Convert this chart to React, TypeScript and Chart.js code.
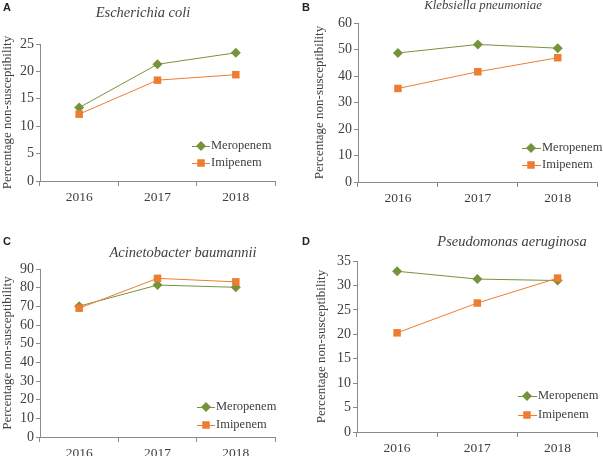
import React, { useEffect, useRef } from "react";
import { Chart, registerables } from "chart.js";

Chart.register(...registerables);

const years = ["2016", "2017", "2018"];
const seriesNames = ["Meropenem", "Imipenem"];

const ecoliMeropenem = [13.4, 21.3, 23.4];
const ecoliImipenem = [12.2, 18.4, 19.4];
const kpneuMeropenem = [48.7, 51.9, 50.5];
const kpneuImipenem = [35.3, 41.6, 46.9];
const abauMeropenem = [70.1, 81.4, 80.2];
const abauImipenem = [69.0, 85.0, 83.1];
const paerMeropenem = [32.9, 31.3, 31.0];
const paerImipenem = [20.3, 26.4, 31.5];

const panelLetters = ["A", "B", "C", "D"];
const organisms = [
  "Escherichia coli",
  "Klebsiella pneumoniae",
  "Acinetobacter baumannii",
  "Pseudomonas aeruginosa",
];
const yMax = [25, 60, 90, 35];
const yStep = [5, 10, 10, 5];
const yLabel = "Percentage non-susceptibility";

const GREEN = "#76933C";
const ORANGE = "#ED7D31";
const TEXT = "#404040";
const AXIS = "#8a8a8a";
const SERIF = "'Liberation Serif', 'Times New Roman', serif";

type Layout = {
  left: number; top: number; w: number; h: number;
  area: { l: number; r: number; t: number; b: number };
  titleX: number; titleY: number; titleSize: number;
  letterX: number; letterY: number;
  yTitlePad: number;
  legend: { x1: number; x2: number; mx: number; tx: number; rows: number[] };
};

const layouts: Layout[] = [
  {
    left: 0, top: 0, w: 300, h: 228,
    area: { l: 40, r: 275, t: 44, b: 181 },
    titleX: 143, titleY: 12, titleSize: 14.5,
    letterX: 3, letterY: 7, yTitlePad: 0,
    legend: { x1: 192, x2: 210, mx: 201, tx: 211, rows: [146, 163] },
  },
  {
    left: 300, top: 0, w: 303, h: 228,
    area: { l: 58, r: 302, t: 23, b: 182 },
    titleX: 183, titleY: 5, titleSize: 12.8,
    letterX: 2, letterY: 7, yTitlePad: 12,
    legend: { x1: 222, x2: 241, mx: 231, tx: 242, rows: [148, 165] },
  },
  {
    left: 0, top: 228, w: 300, h: 228,
    area: { l: 40, r: 275, t: 41, b: 209 },
    titleX: 183, titleY: 24, titleSize: 14.5,
    letterX: 3, letterY: 13, yTitlePad: 0,
    legend: { x1: 197, x2: 215, mx: 206, tx: 216, rows: [179, 197] },
  },
  {
    left: 300, top: 228, w: 303, h: 228,
    area: { l: 57, r: 302, t: 33, b: 204 },
    titleX: 212, titleY: 13, titleSize: 14.5,
    letterX: 2, letterY: 13, yTitlePad: 14,
    legend: { x1: 218, x2: 237, mx: 227, tx: 238, rows: [168, 187] },
  },
];

const panelData = [
  [ecoliMeropenem, ecoliImipenem],
  [kpneuMeropenem, kpneuImipenem],
  [abauMeropenem, abauImipenem],
  [paerMeropenem, paerImipenem],
];

const X_H = 22;

function Panel({ idx }: { idx: number }) {
  const ref = useRef<HTMLCanvasElement | null>(null);
  const L = layouts[idx];
  useEffect(() => {
    if (!ref.current) return;
    const legendPlugin = {
      id: "lineLegend",
      afterDraw(chart: any) {
        const ctx = chart.ctx;
        ctx.save();
        chart.data.datasets.forEach((ds: any, i: number) => {
          const y = L.legend.rows[i];
          ctx.strokeStyle = ds.borderColor;
          ctx.lineWidth = 1;
          ctx.beginPath();
          ctx.moveTo(L.legend.x1, y + 0.5);
          ctx.lineTo(L.legend.x2, y + 0.5);
          ctx.stroke();
          ctx.fillStyle = ds.pointBackgroundColor;
          ctx.beginPath();
          const r = ds.pointRadius;
          const x = L.legend.mx;
          if (ds.pointStyle === "rectRot") {
            ctx.moveTo(x - r, y);
            ctx.lineTo(x, y - r);
            ctx.lineTo(x + r, y);
            ctx.lineTo(x, y + r);
            ctx.closePath();
          } else {
            const s = Math.SQRT1_2 * r;
            ctx.rect(x - s, y - s, 2 * s, 2 * s);
          }
          ctx.fill();
          ctx.fillStyle = TEXT;
          ctx.font = `12.5px ${SERIF}`;
          ctx.textBaseline = "middle";
          ctx.textAlign = "left";
          ctx.fillText(ds.label, L.legend.tx, y);
        });
        ctx.restore();
      },
    };
    const chart = new Chart(ref.current, {
      type: "line",
      data: {
        labels: years,
        datasets: [
          {
            label: seriesNames[0],
            data: panelData[idx][0],
            borderColor: GREEN,
            backgroundColor: GREEN,
            pointBackgroundColor: GREEN,
            pointBorderColor: GREEN,
            borderWidth: 1,
            pointStyle: "rectRot",
            pointRadius: 5,
            pointBorderWidth: 0,
            order: 2,
          },
          {
            label: seriesNames[1],
            data: panelData[idx][1],
            borderColor: ORANGE,
            backgroundColor: ORANGE,
            pointBackgroundColor: ORANGE,
            pointBorderColor: ORANGE,
            borderWidth: 1,
            pointStyle: "rect",
            pointRadius: 5.3,
            pointBorderWidth: 0,
            order: 1,
          },
        ] as any,
      },
      options: {
        animation: false,
        responsive: false,
        maintainAspectRatio: false,
        events: [],
        clip: false as any,
        layout: {
          padding: {
            left: 0,
            top: L.area.t,
            right: L.w - L.area.r,
            bottom: L.h - L.area.b - X_H,
          },
        },
        plugins: {
          legend: { display: false },
          title: { display: false },
          tooltip: { enabled: false },
        },
        scales: {
          x: {
            offset: true,
            grid: {
              offset: true,
              drawOnChartArea: false,
              drawTicks: true,
              tickLength: 5,
              color: AXIS,
            },
            border: { display: true, color: AXIS, width: 1 },
            ticks: {
              color: TEXT,
              font: { family: SERIF, size: 13.5 },
              padding: 3,
              maxRotation: 0,
              autoSkip: false,
            },
            afterFit(scale: any) {
              scale.height = X_H;
            },
          },
          y: {
            min: 0,
            max: yMax[idx],
            grid: {
              drawOnChartArea: false,
              drawTicks: true,
              tickLength: 4,
              color: AXIS,
            },
            border: { display: true, color: AXIS, width: 1 },
            ticks: {
              stepSize: yStep[idx],
              color: TEXT,
              font: { family: SERIF, size: 14 },
              padding: 2,
              autoSkip: false,
            },
            title: {
              display: true,
              text: yLabel,
              color: TEXT,
              font: { family: SERIF, size: 13 },
              padding: { top: L.yTitlePad, bottom: 0 },
            },
            afterFit(scale: any) {
              scale.width = L.area.l;
            },
          },
        },
      },
      plugins: [legendPlugin],
    } as any);
    return () => chart.destroy();
  }, [idx]);

  return (
    <div
      style={{
        position: "absolute",
        left: L.left,
        top: L.top,
        width: L.w,
        height: L.h,
      }}
    >
      <canvas ref={ref} width={L.w} height={L.h} style={{ width: L.w, height: L.h, display: "block" }} />
      <div
        style={{
          position: "absolute",
          left: L.letterX,
          top: L.letterY,
          transform: "translateY(-50%)",
          fontFamily: "'Liberation Sans', Arial, sans-serif",
          fontWeight: "bold",
          fontSize: 11,
          color: "#222",
          lineHeight: 1,
        }}
      >
        {panelLetters[idx]}
      </div>
      <div
        style={{
          position: "absolute",
          left: L.titleX,
          top: L.titleY,
          transform: "translate(-50%, -50%)",
          fontFamily: SERIF,
          fontStyle: "italic",
          fontSize: L.titleSize,
          color: TEXT,
          whiteSpace: "nowrap",
          lineHeight: 1,
        }}
      >
        {organisms[idx]}
      </div>
    </div>
  );
}

export default function App() {
  return (
    <div
      style={{
        position: "absolute",
        left: 0,
        top: 0,
        width: 603,
        height: 456,
        background: "#ffffff",
        overflow: "hidden",
      }}
    >
      {[0, 1, 2, 3].map((i) => (
        <Panel key={i} idx={i} />
      ))}
    </div>
  );
}
